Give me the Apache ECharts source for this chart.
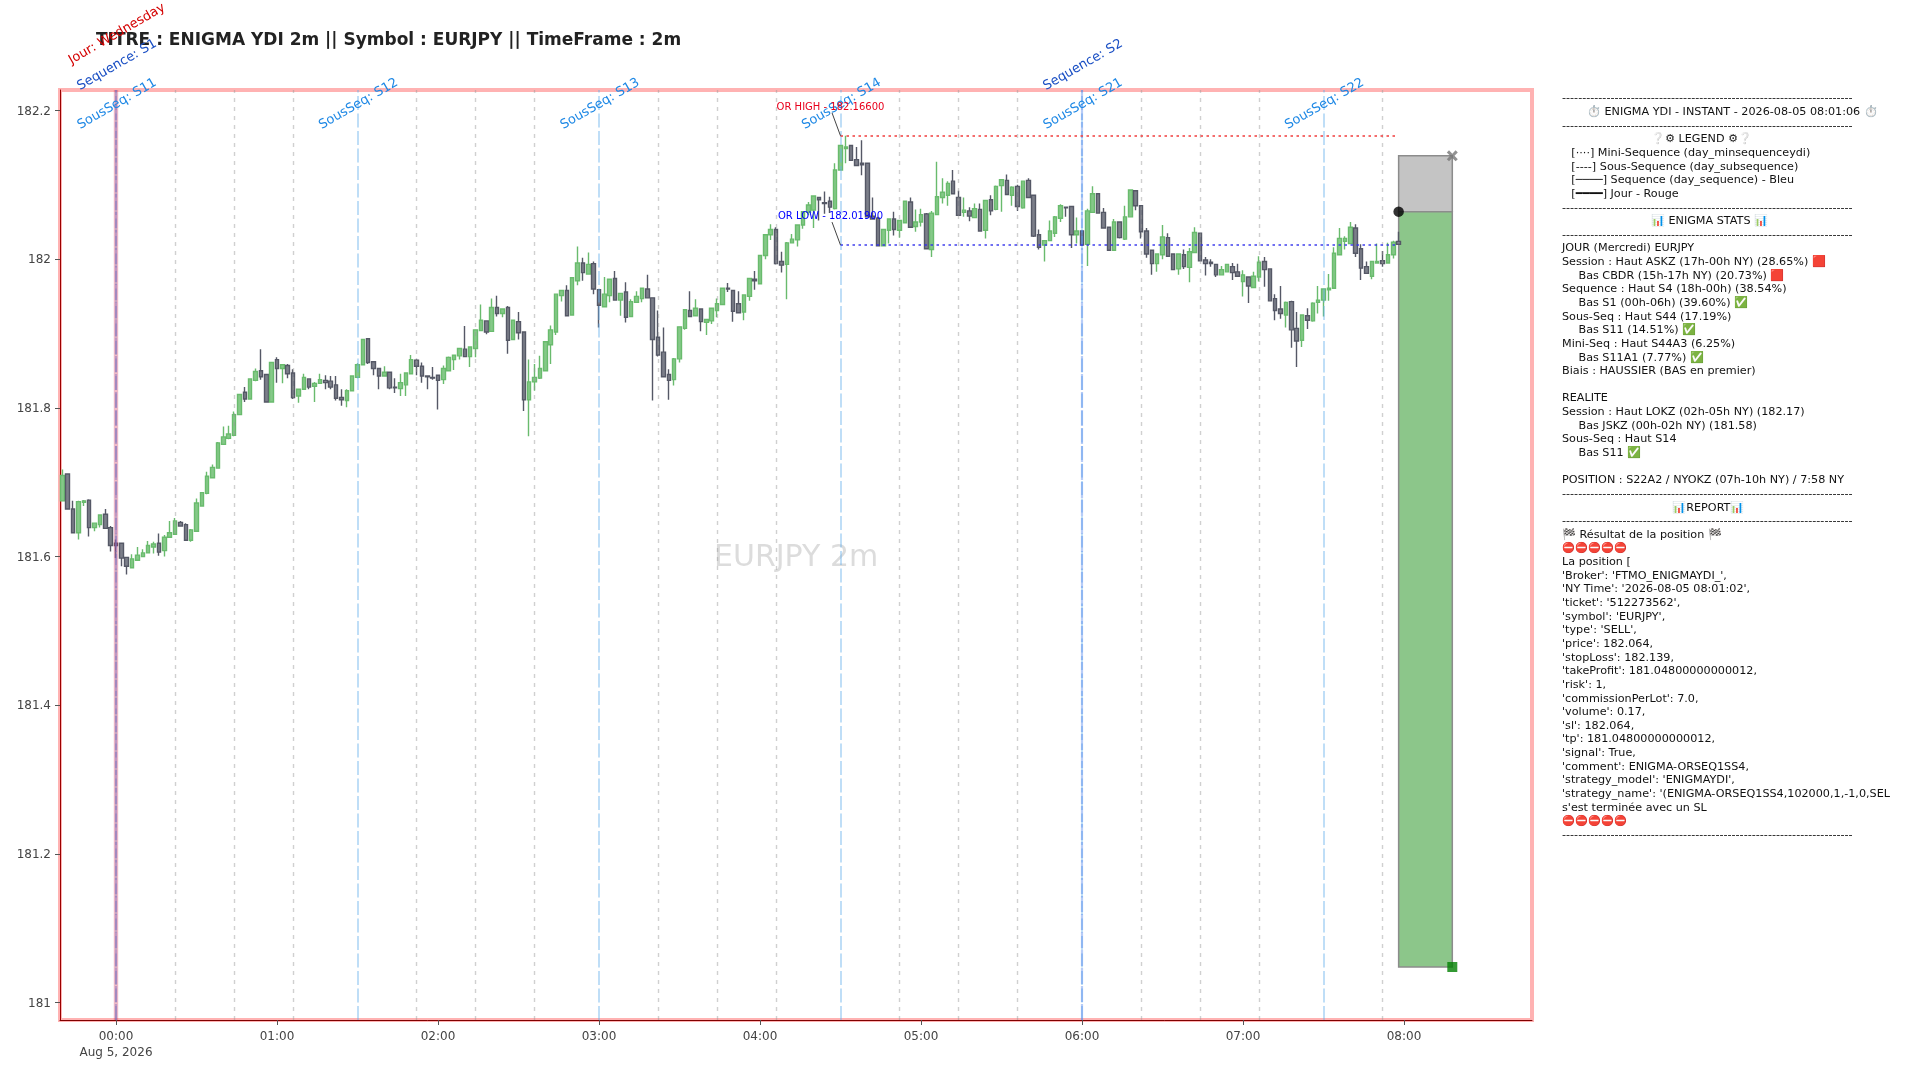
<!DOCTYPE html>
<html><head><meta charset="utf-8"><title>ENIGMA YDI</title>
<script src="https://cdn.jsdelivr.net/npm/echarts@6/dist/echarts.min.js"></script>
<style>html,body{margin:0;padding:0;background:#fff}#c{width:1920px;height:1080px}</style></head>
<body><div id="c"></div>
<script>
// minutes relative to 2026-08-05 00:00 NY; first candle 23:40, one candle every 2 minutes
const firstCandleMinute = -20, candleStep = 2;
// [open, close, low, high]
const candles = [
[181.675,181.709,181.674,181.717],[181.711,181.664,181.664,181.711],[181.664,181.632,181.631,181.675],[181.632,181.674,181.623,181.675],[181.673,181.675,181.668,181.676],
[181.676,181.639,181.627,181.677],[181.639,181.645,181.634,181.646],[181.643,181.656,181.639,181.656],[181.657,181.638,181.637,181.664],[181.639,181.615,181.607,181.641],
[181.618,181.615,181.598,181.623],[181.618,181.598,181.587,181.618],[181.599,181.587,181.576,181.599],[181.585,181.597,181.585,181.603],[181.595,181.602,181.594,181.613],
[181.600,181.605,181.600,181.610],[181.605,181.615,181.605,181.621],[181.613,181.617,181.604,181.620],[181.618,181.606,181.601,181.631],[181.608,181.626,181.600,181.629],
[181.626,181.632,181.625,181.648],[181.630,181.648,181.630,181.652],[181.646,181.641,181.640,181.648],[181.643,181.622,181.621,181.645],[181.622,181.636,181.620,181.637],
[181.634,181.672,181.634,181.678],[181.668,181.686,181.668,181.687],[181.685,181.708,181.684,181.714],[181.706,181.720,181.706,181.724],[181.719,181.753,181.718,181.754],
[181.751,181.761,181.751,181.775],[181.759,181.765,181.758,181.776],[181.763,181.791,181.762,181.795],[181.791,181.818,181.790,181.819],[181.821,181.812,181.808,181.828],
[181.812,181.839,181.811,181.840],[181.837,181.849,181.836,181.853],[181.850,181.842,181.838,181.879],[181.845,181.808,181.807,181.845],[181.808,181.861,181.807,181.861],
[181.865,181.853,181.834,181.868],[181.853,181.858,181.833,181.859],[181.857,181.846,181.840,181.859],[181.847,181.814,181.812,181.852],[181.816,181.825,181.807,181.826],
[181.825,181.841,181.824,181.846],[181.839,181.828,181.825,181.840],[181.829,181.833,181.808,181.835],[181.833,181.838,181.832,181.846],[181.837,181.834,181.825,181.844],
[181.836,181.828,181.825,181.843],[181.831,181.813,181.810,181.843],[181.814,181.811,181.803,181.825],[181.810,181.823,181.801,181.825],[181.823,181.843,181.822,181.844],
[181.841,181.858,181.840,181.860],[181.858,181.892,181.857,181.893],[181.893,181.861,181.859,181.894],[181.862,181.853,181.844,181.862],[181.853,181.843,181.825,181.854],
[181.843,181.848,181.843,181.856],[181.848,181.827,181.825,181.848],[181.828,181.827,181.820,181.840],[181.826,181.834,181.816,181.846],[181.831,181.847,181.816,181.848],
[181.846,181.865,181.845,181.871],[181.864,181.856,181.844,181.866],[181.856,181.843,181.834,181.861],[181.843,181.842,181.825,181.844],[181.841,181.840,181.838,181.855],
[181.844,181.837,181.798,181.845],[181.838,181.853,181.832,181.857],[181.850,181.868,181.850,181.869],[181.865,181.871,181.851,181.872],[181.870,181.880,181.865,181.880],
[181.879,181.869,181.868,181.910],[181.869,181.882,181.855,181.882],[181.880,181.905,181.868,181.905],[181.904,181.918,181.904,181.939],[181.917,181.902,181.899,181.918],
[181.903,181.935,181.903,181.947],[181.935,181.927,181.923,181.951],[181.927,181.933,181.922,181.934],[181.935,181.891,181.873,181.937],[181.892,181.918,181.891,181.918],
[181.916,181.901,181.892,181.929],[181.902,181.811,181.796,181.902],[181.811,181.835,181.762,181.865],[181.835,181.841,181.823,181.859],[181.840,181.853,181.839,181.870],
[181.850,181.889,181.849,181.889],[181.885,181.905,181.859,181.911],[181.902,181.953,181.898,181.954],[181.951,181.958,181.943,181.959],[181.958,181.924,181.923,181.965],
[181.925,181.975,181.924,181.975],[181.971,181.995,181.965,182.017],[181.995,181.982,181.971,182.002],[181.980,181.993,181.980,182.009],[181.994,181.960,181.953,181.997],
[181.959,181.938,181.908,181.960],[181.936,181.953,181.935,181.976],[181.951,181.973,181.942,181.973],[181.974,181.945,181.944,181.984],[181.945,181.954,181.924,181.955],
[181.956,181.922,181.915,181.969],[181.923,181.943,181.923,181.946],[181.942,181.950,181.942,181.957],[181.947,181.961,181.942,181.962],[181.960,181.948,181.947,181.979],
[181.948,181.892,181.810,181.948],[181.895,181.871,181.869,181.931],[181.875,181.842,181.841,181.908],[181.845,181.837,181.811,181.852],[181.838,181.866,181.830,181.867],
[181.866,181.909,181.861,181.909],[181.907,181.932,181.905,181.933],[181.931,181.923,181.923,181.957],[181.924,181.934,181.923,181.946],[181.933,181.916,181.903,181.934],
[181.915,181.919,181.898,181.920],[181.917,181.934,181.913,181.934],[181.931,181.940,181.922,181.947],[181.939,181.961,181.938,181.962],[181.961,181.960,181.956,181.968],
[181.958,181.930,181.916,181.959],[181.940,181.928,181.927,181.957],[181.929,181.952,181.918,181.953],[181.950,181.974,181.944,181.975],[181.973,181.971,181.959,181.984],
[181.967,182.005,181.966,182.006],[182.005,182.033,182.000,182.033],[182.033,182.040,182.026,182.047],[182.040,181.994,181.993,182.043],[181.997,181.992,181.982,182.010],
[181.993,182.022,181.946,182.023],[182.022,182.027,182.021,182.034],[182.026,182.046,182.017,182.046],[182.046,182.064,182.041,182.065],[182.063,182.073,182.059,182.077],
[182.066,182.085,182.042,182.086],[182.083,182.080,182.052,182.084],[182.076,182.075,182.061,182.091],[182.078,182.070,182.062,182.084],[182.068,182.120,182.067,182.129],
[182.120,182.153,182.119,182.154],[182.149,182.151,182.129,182.166],[182.153,182.133,182.132,182.154],[182.134,182.126,182.125,182.151],[182.129,182.127,182.113,182.160],
[182.129,182.057,182.056,182.130],[182.058,182.054,182.053,182.083],[182.055,182.018,182.017,182.057],[182.018,182.040,182.017,182.041],[182.039,182.054,182.021,182.055],
[182.054,182.040,182.032,182.064],[182.039,182.052,182.029,182.053],[182.049,182.078,182.048,182.079],[182.077,182.043,182.042,182.083],[182.044,182.050,182.037,182.067],
[182.050,182.060,182.044,182.068],[182.061,182.014,182.013,182.062],[182.013,182.062,182.003,182.065],[182.060,182.084,182.059,182.131],[182.083,182.090,182.075,182.109],
[182.086,182.102,182.072,182.105],[182.105,182.088,182.087,182.120],[182.083,182.059,182.058,182.092],[182.063,182.066,182.057,182.083],[182.065,182.058,182.051,182.070],
[182.056,182.068,182.055,182.075],[182.067,182.038,182.037,182.075],[182.039,182.079,182.028,182.080],[182.080,182.065,182.059,182.086],[182.067,182.098,182.066,182.099],
[182.099,182.107,182.064,182.108],[182.106,182.087,182.086,182.114],[182.086,182.097,182.072,182.098],[182.098,182.071,182.065,182.100],[182.069,182.105,182.068,182.106],
[182.106,182.083,182.082,182.109],[182.086,182.031,182.030,182.087],[182.033,182.016,182.013,182.040],[182.019,182.025,181.997,182.026],[182.025,182.038,182.024,182.052],
[182.035,182.057,182.030,182.058],[182.055,182.072,182.050,182.074],[182.070,182.069,182.057,182.071],[182.071,182.033,182.015,182.072],[182.033,182.038,182.021,182.056],
[182.038,182.019,182.018,182.039],[182.020,182.065,181.991,182.068],[182.063,182.088,182.062,182.098],[182.088,182.062,182.061,182.089],[182.063,182.042,182.041,182.069],
[182.043,182.012,182.011,182.044],[182.012,182.050,182.011,182.054],[182.050,182.029,182.028,182.051],[182.027,182.057,182.026,182.072],[182.057,182.093,182.056,182.094],
[182.092,182.072,182.066,182.093],[182.072,182.037,182.028,182.073],[182.038,182.007,182.002,182.042],[182.012,181.994,181.979,182.013],[181.994,182.007,181.983,182.008],
[182.006,182.030,182.000,182.046],[182.029,182.004,182.003,182.035],[182.007,181.986,181.985,182.008],[181.987,182.007,181.979,182.008],[182.006,181.990,181.987,182.013],
[181.989,182.010,181.969,182.015],[182.009,182.036,182.008,182.043],[182.035,181.998,181.997,182.036],[181.999,181.994,181.978,182.003],[181.996,181.994,181.990,182.000],
[181.993,181.979,181.976,181.994],[181.979,181.986,181.978,181.991],[181.983,181.993,181.982,181.994],[181.990,181.982,181.972,181.995],[181.983,181.977,181.976,181.994],
[181.970,181.979,181.950,181.985],[181.976,181.964,181.941,181.977],[181.962,181.977,181.961,181.983],[181.976,181.996,181.970,182.004],[181.997,181.986,181.963,182.003],
[181.987,181.944,181.943,181.988],[181.947,181.931,181.918,181.953],[181.933,181.927,181.920,181.964],[181.925,181.942,181.908,181.943],[181.943,181.905,181.881,181.944],
[181.907,181.890,181.855,181.929],[181.891,181.925,181.882,181.926],[181.924,181.918,181.906,181.934],[181.917,181.941,181.916,181.942],[181.942,181.945,181.927,181.964],
[181.945,181.960,181.923,181.961],[181.959,181.961,181.944,181.980],[181.961,182.008,181.960,182.016],[182.006,182.028,182.005,182.042],[182.024,182.028,182.013,182.031],
[182.021,182.043,182.020,182.050],[182.042,182.008,182.003,182.047],[182.014,181.988,181.972,182.020],[181.990,181.981,181.980,181.997],[181.977,181.997,181.973,181.998],
[181.995,181.997,181.994,182.021],[181.998,181.994,181.990,182.011],[181.995,182.006,181.994,182.022],[182.006,182.023,182.001,182.025],[182.024,182.020,182.019,182.037]
];
const xTickMinutes = [0,60,120,180,240,300,360,420,480];
const xTickLabels = ['00:00\nAug 5, 2026','01:00','02:00','03:00','04:00','05:00','06:00','07:00','08:00'];
const yTicks = [181,181.2,181.4,181.6,181.8,182,182.2];
const yTickLabels = ['181','181.2','181.4','181.6','181.8','182','182.2'];
const dayMarks = [0];
const dayLabels = ['Jour: Wednesday'];
const seqMarks = [0,360];
const seqLabels = ['Sequence: S1','Sequence: S2'];
const subMarks = [0,90,180,270,360,450];
const subLabels = ['SousSeq: S11','SousSeq: S12','SousSeq: S13','SousSeq: S14','SousSeq: S21','SousSeq: S22'];
const miniMarks = [22,44,66,112,134,156,202,224,246,292,314,336,382,404,426,472];
const orStartMinute = 270, orEndMinute = 477;
const orHigh = 182.166, orLow = 182.019;
const orHighText = 'OR HIGH - 182.16600', orLowText = 'OR LOW - 182.01900';
const entryMinute = 478, exitMinute = 498;
const entryPrice = 182.064, stopLoss = 182.139, takeProfit = 181.048;
const titleText = 'TITRE : ENIGMA YDI 2m || Symbol : EURJPY || TimeFrame : 2m';
const watermarkText = 'EURJPY 2m';
const rule = '-'.repeat(72);
const panelLines = [
rule,
'       ⏱️ ENIGMA YDI - INSTANT - 2026-08-05 08:01:06 ⏱️',
rule,
'                         ❔⚙ LEGEND ⚙❔',
'  \u2009[····] Mini-Sequence (day_minsequenceydi)',
'  \u2009[----] Sous-Sequence (day_subsequence)',
'  \u2009[────] Sequence (day_sequence) - Bleu',
'  \u2009[━━━━] Jour - Rouge',
rule,
'                         📊 ENIGMA STATS 📊',
rule,
'JOUR (Mercredi) EURJPY',
'Session : Haut ASKZ (17h-00h NY) (28.65%) 🟥',
'    \u2009Bas CBDR (15h-17h NY) (20.73%) 🟥',
'Sequence : Haut S4 (18h-00h) (38.54%)',
'    \u2009Bas S1 (00h-06h) (39.60%) ✅',
'Sous-Seq : Haut S44 (17.19%)',
'    \u2009Bas S11 (14.51%) ✅',
'Mini-Seq : Haut S44A3 (6.25%)',
'    \u2009Bas S11A1 (7.77%) ✅',
'Biais : HAUSSIER (BAS en premier)',
'',
'REALITE',
'Session : Haut LOKZ (02h-05h NY) (182.17)',
'    \u2009Bas JSKZ (00h-02h NY) (181.58)',
'Sous-Seq : Haut S14',
'    \u2009Bas S11 ✅',
'',
'POSITION : S22A2 / NYOKZ (07h-10h NY) / 7:58 NY',
rule,
'                               📊REPORT📊',
rule,
'🏁 Résultat de la position 🏁',
'⛔⛔⛔⛔⛔',
'La position [',
"'Broker': 'FTMO_ENIGMAYDI_',",
"'NY Time': '2026-08-05 08:01:02',",
"'ticket': '512273562',",
"'symbol': 'EURJPY',",
"'type': 'SELL',",
"'price': 182.064,",
"'stopLoss': 182.139,",
"'takeProfit': 181.04800000000012,",
"'risk': 1,",
"'commissionPerLot': 7.0,",
"'volume': 0.17,",
"'sl': 182.064,",
"'tp': 181.04800000000012,",
"'signal': True,",
"'comment': ENIGMA-ORSEQ1SS4,",
"'strategy_model': 'ENIGMAYDI',",
"'strategy_name': '(ENIGMA-ORSEQ1SS4,102000,1,-1,0,SEL",
"s'est terminée avec un SL",
'⛔⛔⛔⛔⛔',
rule
];

const FONT = '"DejaVu Sans", sans-serif';
const xMin = -20.87, xMax = 527.7, yMin = 180.9767, yMax = 182.2276;
const chart = echarts.init(document.getElementById('c'), null, {renderer:'canvas', width:1920, height:1080});

function vLines(minutes, lineStyle){
  return {type:'line', data:[], symbol:'none', silent:true, animation:false,
    markLine:{silent:true, symbol:'none', animation:false, label:{show:false}, lineStyle,
      data:minutes.map(m=>[{coord:[m,yMin]},{coord:[m,yMax]}])}};
}
function hLine(price,color){
  return {type:'line', data:[], symbol:'none', silent:true, animation:false,
    markLine:{silent:true, symbol:'none', animation:false, label:{show:false},
      lineStyle:{color, width:2, type:[2.5,3.5], opacity:1},
      data:[[{coord:[orStartMinute,price]},{coord:[orEndMinute,price]}]]}};
}
function rotatedLabels(minutes,texts,pixelY,color){
  return {type:'custom', coordinateSystem:'cartesian2d', silent:true, animation:false, z:20, clip:false,
    data:minutes.map((m,i)=>[m,yMax,texts[i]]),
    encode:{x:0,y:1},
    renderItem(params,api){
      const p=api.coord([api.value(0),yMax]);
      return {type:'text', x:p[0]+1, y:pixelY, rotation:Math.PI/6,
        style:{text:texts[params.dataIndex], fill:color, font:'13px '+FONT, align:'center', verticalAlign:'middle'}};
    }};
}
function orAnnotation(price,text,color,dy){
  return {type:'custom', coordinateSystem:'cartesian2d', silent:true, animation:false, z:21, clip:false,
    data:[[orStartMinute,price]], encode:{x:0,y:1},
    renderItem(params,api){
      const p=api.coord([api.value(0),api.value(1)]);
      return {type:'group',children:[
        {type:'line', shape:{x1:p[0]-8.5,y1:p[1]-23,x2:p[0],y2:p[1]}, style:{stroke:'#444',lineWidth:1}},
        {type:'text', x:p[0]-10, y:p[1]-dy, style:{text, fill:color, font:'10px '+FONT, align:'center', verticalAlign:'middle'}}
      ]};
    }};
}

chart.setOption({
  animation:false,
  backgroundColor:'#fff',
  grid:{left:60, top:90, width:1472, height:930, show:true, borderColor:'rgba(255,0,0,0.3)', borderWidth:4, backgroundColor:'#fff', containLabel:false},
  xAxis:{type:'value', min:xMin, max:xMax, splitLine:{show:false},
    axisLine:{show:true, onZero:false, lineStyle:{color:'#800000', width:1}},
    axisTick:{show:true, length:5, customValues:xTickMinutes, lineStyle:{color:'#555'}},
    axisLabel:{customValues:xTickMinutes, margin:9, color:'#444', fontFamily:FONT, fontSize:12, lineHeight:16, hideOverlap:false,
      formatter:v=>xTickLabels[xTickMinutes.indexOf(v)]||''}},
  yAxis:{type:'value', min:yMin, max:yMax, scale:true, splitLine:{show:false},
    axisLine:{show:true, onZero:false, lineStyle:{color:'#9a0000', width:1}},
    axisTick:{show:true, length:5, customValues:yTicks, lineStyle:{color:'#555'}},
    axisLabel:{customValues:yTicks, margin:9, color:'#444', fontFamily:FONT, fontSize:12, lineHeight:14, verticalAlign:'top', padding:[-6,0,0,0], hideOverlap:false,
      formatter:v=>yTickLabels[yTicks.indexOf(v)]||''}},
  series:[
    {type:'line', data:[], symbol:'none', silent:true, animation:false, z:1,
      markArea:{silent:true, animation:false, label:{show:false},
        data:[
          [{coord:[entryMinute,stopLoss],itemStyle:{color:'#c4c4c4',borderColor:'#8c8c8c',borderWidth:1.5}},{coord:[exitMinute,entryPrice]}],
          [{coord:[entryMinute,entryPrice],itemStyle:{color:'#8cc68a',borderColor:'#8c8c8c',borderWidth:1.5}},{coord:[exitMinute,takeProfit]}]
        ]}},
    {type:'candlestick', z:2, animation:false, silent:true, barWidth:4,
      encode:{x:0,y:[1,2,3,4]},
      itemStyle:{color:'#85c988',borderColor:'#69bb6d',color0:'#7c7f8a',borderColor0:'#555866',borderWidth:1.4},
      data:candles.map((c,i)=>[firstCandleMinute+candleStep*i].concat(c))},
    vLines(miniMarks,{color:'rgba(150,150,150,0.45)',width:1.4,type:[4,5],opacity:1}),
    vLines(subMarks,{color:'rgba(100,175,235,0.55)',width:1.5,type:[14,3.5],opacity:1}),
    vLines(seqMarks,{color:'rgba(66,120,235,0.38)',width:2.2,type:[16,2],opacity:1}),
    vLines(dayMarks,{color:'rgba(205,40,85,0.32)',width:4.4,type:'solid',opacity:1}),
    hLine(orHigh,'rgba(240,60,60,0.75)'),
    hLine(orLow,'rgba(50,50,235,0.7)'),
    rotatedLabels(dayMarks,dayLabels,34,'#d40000'),
    rotatedLabels(seqMarks,seqLabels,65,'#1a4fc4'),
    rotatedLabels(subMarks,subLabels,104,'#1e88e5'),
    orAnnotation(orHigh,orHighText,'#e8001c',28),
    orAnnotation(orLow,orLowText,'#0000ff',29),
    {type:'scatter', z:22, silent:true, animation:false, symbol:'circle', symbolSize:10.5, clip:false,
      itemStyle:{color:'#000'}, data:[[entryMinute,entryPrice]]},
    {type:'scatter', z:22, silent:true, animation:false, clip:false,
      symbol:'path://M2 0 L5 3 L8 0 L10 2 L7 5 L10 8 L8 10 L5 7 L2 10 L0 8 L3 5 L0 2 Z', symbolSize:11,
      itemStyle:{color:'#777'}, data:[[exitMinute,stopLoss]]},
    {type:'scatter', z:22, silent:true, animation:false, symbol:'rect', symbolSize:10, clip:false,
      itemStyle:{color:'#008000'}, data:[[exitMinute,takeProfit]]}
  ],
  graphic:[
    {type:'text', z:0, left:714, top:543, silent:true, style:{text:watermarkText, fill:'#dcdcdc', font:'30px '+FONT}},
    {type:'text', z:10, left:96, top:32.5, silent:true, style:{text:titleText, fill:'#222', font:'bold 17px '+FONT}}
  ].concat(panelLines.map((t,i)=>({type:'text', z:10, silent:true, x:1562, y:98.5+13.64*i,
     style:{text:t, fill:'#111', font:(t.startsWith('⛔')?'10.3px ':'11.2px ')+FONT, align:'left', verticalAlign:'middle'}})))
});
</script></body></html>
